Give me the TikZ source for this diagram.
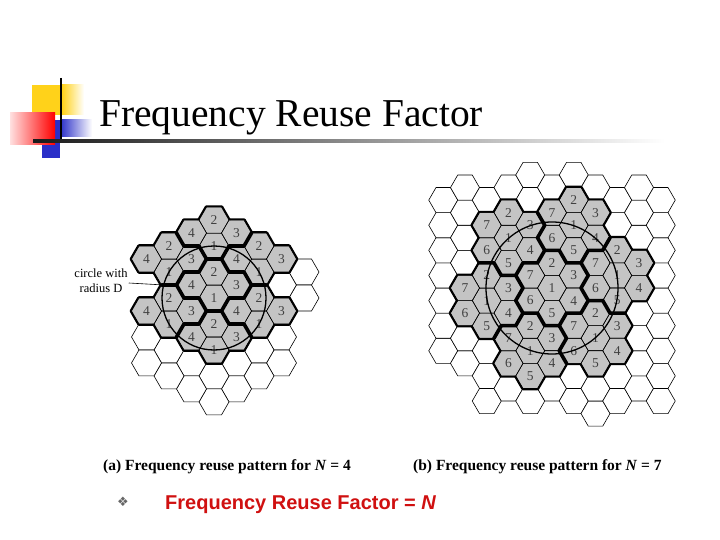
\documentclass[tikz,border=0pt]{standalone}
\usepackage{fontspec}
\setmainfont{Liberation Serif}
\newfontfamily\arialf{Liberation Sans}
\newfontfamily\djv{DejaVu Sans}
\newcommand\hexcell[5]{({#1+1.5*#3*(#4)},{#2-0.866*#3*(#4)-1.732*#3*(#5)}) +(#3,0) -- +(60:#3) -- +(120:#3) -- +(180:#3) -- +(240:#3) -- +(300:#3) -- cycle}
\definecolor{cellgray}{HTML}{C4C4C4}
\definecolor{decyellow}{HTML}{FFD21A}
\definecolor{decblue}{HTML}{2A2FC8}
\definecolor{bulred}{HTML}{D01010}
\tikzset{
  whitecell/.style={draw=black, line width=0.6pt, fill=white},
  graycell/.style={draw=black, line width=0.6pt, fill=cellgray},
  thickedge/.style={draw=black, line width=3.6pt, line join=round},
  cellnum/.style={font=\fontsize{13.5}{13.5}\selectfont, text=black!75, inner sep=0pt},
  bigcircle/.style={draw=black, line width=1.3pt},
}
\begin{document}
\begin{tikzpicture}[x=1pt,y=-1pt]
\useasboundingbox (0,0) rectangle (720,540);
\fill[white] (0,0) rectangle (720,540);
% decoration
\fill[decyellow] (32,85) rectangle (62,115);
\shade[left color=decyellow, right color=white] (62,85) rectangle (84,115);
\fill[decblue] (42,120) rectangle (60,158);
\shade[left color=decblue, right color=white] (60,120) rectangle (92,137);
\shade[left color=red!12, right color=red] (10,113) rectangle (55,145);
\draw[line width=1.5pt] (61,78) -- (61,142);
\shade[left color=black!90, right color=white] (33,140) rectangle (665,142.2);
\node[anchor=base west, font=\fontsize{39.5}{42}\selectfont, inner sep=0pt] (title) at (99,127) {Frequency Reuse Factor};
% ===== left grid N=4 =====
\foreach \i/\j in {3/-1,4/-1,4/-2,3/-3,3/-4,2/-3,2/-4,1/-3,1/-4,0/-3,0/-4,-1/-2,-1/-3,-2/-1,-2/-2,-3/0,-3/-1}
  \path[whitecell] \hexcell{214}{298}{15}{\i}{\j};
\foreach \a/\b in {0/0,0/2,0/-2,-2/2,2/0,-2/0,2/-2}
  \foreach \di/\dj in {0/0,0/1,-1/1,1/0}
    \path[graycell] \hexcell{214}{298}{15}{\a+\di}{\b+\dj};
\foreach \a/\b in {0/0,0/2,0/-2,-2/2,2/0,-2/0,2/-2}{
  \begin{scope}[even odd rule]
    \clip (-50,-50) rectangle (770,590)
      \foreach \di/\dj in {0/0,0/1,-1/1,1/0}{ \hexcell{214}{298}{15}{\a+\di}{\b+\dj} };
    \foreach \di/\dj in {0/0,0/1,-1/1,1/0}
      \path[thickedge] \hexcell{214}{298}{15}{\a+\di}{\b+\dj};
  \end{scope}
}
\foreach \a/\b [count=\k] in {0/0,0/2,0/-2,-2/2,2/0,-2/0,2/-2}
  \foreach \n/\di/\dj in {1/0/0,2/0/1,4/-1/1,3/1/0}
    \node[cellnum] (la\k n\n) at ({214+22.5*(\a+\di)},{298-12.99*(\a+\di)-25.98*(\b+\dj)}) {\n};
\node[bigcircle, circle, minimum size=104pt, inner sep=0pt] (circA) at (214,298) {};
\node[align=center, font=\fontsize{12.5}{15}\selectfont, inner sep=1pt] (lblA) at (101,281) {circle with\\ radius D};
\coordinate (cpA) at (164,285);
\draw[line width=0.6pt] (lblA.east) ++(0,2) -- (cpA);
% ===== right grid N=7 =====
\foreach \i/\jmin/\jmax in {-5/0/6,-4/-1/6,-3/-3/5,-2/-3/5,-1/-4/5,0/-4/4,1/-5/4,2/-6/3,3/-6/2,4/-6/2,5/-7/1}
  \foreach \j in {\jmin,...,\jmax}
    \path[whitecell] \hexcell{552}{288}{14.5}{\i}{\j};
\foreach \a/\b in {0/0,3/-1,1/2,-2/3,-3/1,-1/-2,2/-3}
  \foreach \di/\dj in {0/0,0/1,1/0,1/-1,0/-1,-1/0,-1/1}
    \path[graycell] \hexcell{552}{288}{14.5}{\a+\di}{\b+\dj};
\foreach \a/\b in {0/0,3/-1,1/2,-2/3,-3/1,-1/-2,2/-3}{
  \begin{scope}[even odd rule]
    \clip (-50,-50) rectangle (770,590)
      \foreach \di/\dj in {0/0,0/1,1/0,1/-1,0/-1,-1/0,-1/1}{ \hexcell{552}{288}{14.5}{\a+\di}{\b+\dj} };
    \foreach \di/\dj in {0/0,0/1,1/0,1/-1,0/-1,-1/0,-1/1}
      \path[thickedge] \hexcell{552}{288}{14.5}{\a+\di}{\b+\dj};
  \end{scope}
}
\foreach \a/\b [count=\k] in {0/0,3/-1,1/2,-2/3,-3/1,-1/-2,2/-3}
  \foreach \n/\di/\dj in {1/0/0,2/0/1,3/1/0,4/1/-1,5/0/-1,6/-1/0,7/-1/1}
    \node[cellnum] (lb\k n\n) at ({552+21.75*(\a+\di)},{288-12.557*(\a+\di)-25.114*(\b+\dj)}) {\n};
\node[bigcircle, circle, minimum size=132pt, inner sep=0pt] (circB) at (552,288) {};
% captions
\node[anchor=base west, font=\bfseries\fontsize{15.5}{17}\selectfont, inner sep=0pt] (capA) at (103,470) {(a)\ Frequency reuse pattern for \textit{N} = 4};
\node[anchor=base west, font=\bfseries\fontsize{15.5}{17}\selectfont, inner sep=0pt] (capB) at (413,470) {(b)\ Frequency reuse pattern for \textit{N}\ = 7};
\node[anchor=base west, font=\djv\fontsize{13}{14}\selectfont, text=black!60, inner sep=0pt] (bul) at (117,506) {❖};
\node[anchor=base west, font=\arialf\bfseries\fontsize{20}{22}\selectfont, text=bulred, inner sep=0pt] (bultext) at (165,509) {Frequency Reuse Factor = \textit{N}};
\end{tikzpicture}
\end{document}
